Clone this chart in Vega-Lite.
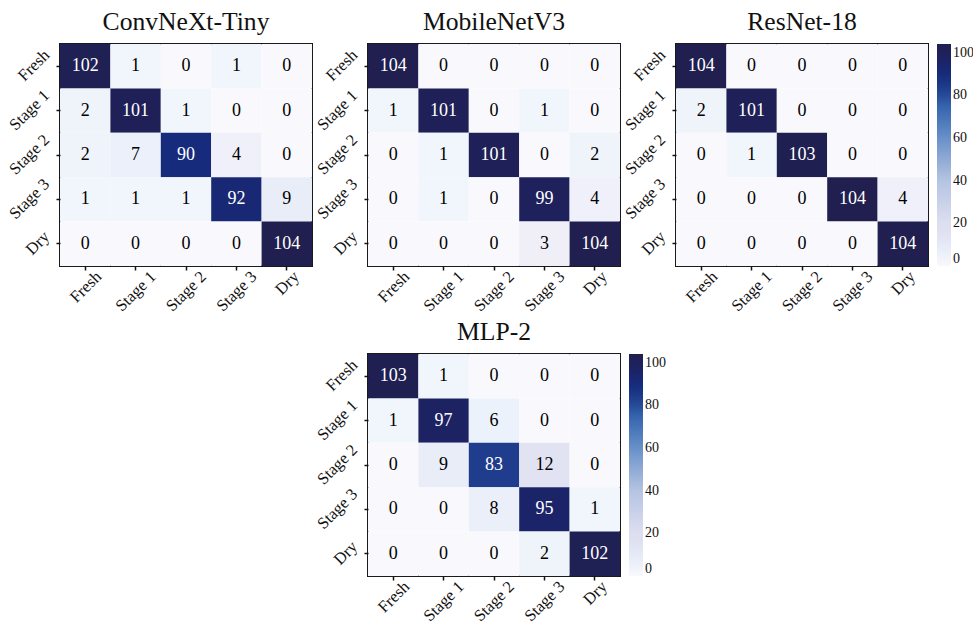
{
  "$schema": "https://vega.github.io/schema/vega-lite/v6.json",
  "padding": {"left": 5, "top": 9, "right": 0, "bottom": 0},
  "background": "white",
  "datasets": {
    "cm": [
      {"model": "ConvNeXt-Tiny", "actual": "Fresh", "pred": "Fresh", "count": 102},
      {"model": "ConvNeXt-Tiny", "actual": "Fresh", "pred": "Stage 1", "count": 1},
      {"model": "ConvNeXt-Tiny", "actual": "Fresh", "pred": "Stage 2", "count": 0},
      {"model": "ConvNeXt-Tiny", "actual": "Fresh", "pred": "Stage 3", "count": 1},
      {"model": "ConvNeXt-Tiny", "actual": "Fresh", "pred": "Dry", "count": 0},
      {"model": "ConvNeXt-Tiny", "actual": "Stage 1", "pred": "Fresh", "count": 2},
      {"model": "ConvNeXt-Tiny", "actual": "Stage 1", "pred": "Stage 1", "count": 101},
      {"model": "ConvNeXt-Tiny", "actual": "Stage 1", "pred": "Stage 2", "count": 1},
      {"model": "ConvNeXt-Tiny", "actual": "Stage 1", "pred": "Stage 3", "count": 0},
      {"model": "ConvNeXt-Tiny", "actual": "Stage 1", "pred": "Dry", "count": 0},
      {"model": "ConvNeXt-Tiny", "actual": "Stage 2", "pred": "Fresh", "count": 2},
      {"model": "ConvNeXt-Tiny", "actual": "Stage 2", "pred": "Stage 1", "count": 7},
      {"model": "ConvNeXt-Tiny", "actual": "Stage 2", "pred": "Stage 2", "count": 90},
      {"model": "ConvNeXt-Tiny", "actual": "Stage 2", "pred": "Stage 3", "count": 4},
      {"model": "ConvNeXt-Tiny", "actual": "Stage 2", "pred": "Dry", "count": 0},
      {"model": "ConvNeXt-Tiny", "actual": "Stage 3", "pred": "Fresh", "count": 1},
      {"model": "ConvNeXt-Tiny", "actual": "Stage 3", "pred": "Stage 1", "count": 1},
      {"model": "ConvNeXt-Tiny", "actual": "Stage 3", "pred": "Stage 2", "count": 1},
      {"model": "ConvNeXt-Tiny", "actual": "Stage 3", "pred": "Stage 3", "count": 92},
      {"model": "ConvNeXt-Tiny", "actual": "Stage 3", "pred": "Dry", "count": 9},
      {"model": "ConvNeXt-Tiny", "actual": "Dry", "pred": "Fresh", "count": 0},
      {"model": "ConvNeXt-Tiny", "actual": "Dry", "pred": "Stage 1", "count": 0},
      {"model": "ConvNeXt-Tiny", "actual": "Dry", "pred": "Stage 2", "count": 0},
      {"model": "ConvNeXt-Tiny", "actual": "Dry", "pred": "Stage 3", "count": 0},
      {"model": "ConvNeXt-Tiny", "actual": "Dry", "pred": "Dry", "count": 104},

      {"model": "MobileNetV3", "actual": "Fresh", "pred": "Fresh", "count": 104},
      {"model": "MobileNetV3", "actual": "Fresh", "pred": "Stage 1", "count": 0},
      {"model": "MobileNetV3", "actual": "Fresh", "pred": "Stage 2", "count": 0},
      {"model": "MobileNetV3", "actual": "Fresh", "pred": "Stage 3", "count": 0},
      {"model": "MobileNetV3", "actual": "Fresh", "pred": "Dry", "count": 0},
      {"model": "MobileNetV3", "actual": "Stage 1", "pred": "Fresh", "count": 1},
      {"model": "MobileNetV3", "actual": "Stage 1", "pred": "Stage 1", "count": 101},
      {"model": "MobileNetV3", "actual": "Stage 1", "pred": "Stage 2", "count": 0},
      {"model": "MobileNetV3", "actual": "Stage 1", "pred": "Stage 3", "count": 1},
      {"model": "MobileNetV3", "actual": "Stage 1", "pred": "Dry", "count": 0},
      {"model": "MobileNetV3", "actual": "Stage 2", "pred": "Fresh", "count": 0},
      {"model": "MobileNetV3", "actual": "Stage 2", "pred": "Stage 1", "count": 1},
      {"model": "MobileNetV3", "actual": "Stage 2", "pred": "Stage 2", "count": 101},
      {"model": "MobileNetV3", "actual": "Stage 2", "pred": "Stage 3", "count": 0},
      {"model": "MobileNetV3", "actual": "Stage 2", "pred": "Dry", "count": 2},
      {"model": "MobileNetV3", "actual": "Stage 3", "pred": "Fresh", "count": 0},
      {"model": "MobileNetV3", "actual": "Stage 3", "pred": "Stage 1", "count": 1},
      {"model": "MobileNetV3", "actual": "Stage 3", "pred": "Stage 2", "count": 0},
      {"model": "MobileNetV3", "actual": "Stage 3", "pred": "Stage 3", "count": 99},
      {"model": "MobileNetV3", "actual": "Stage 3", "pred": "Dry", "count": 4},
      {"model": "MobileNetV3", "actual": "Dry", "pred": "Fresh", "count": 0},
      {"model": "MobileNetV3", "actual": "Dry", "pred": "Stage 1", "count": 0},
      {"model": "MobileNetV3", "actual": "Dry", "pred": "Stage 2", "count": 0},
      {"model": "MobileNetV3", "actual": "Dry", "pred": "Stage 3", "count": 3},
      {"model": "MobileNetV3", "actual": "Dry", "pred": "Dry", "count": 104},

      {"model": "ResNet-18", "actual": "Fresh", "pred": "Fresh", "count": 104},
      {"model": "ResNet-18", "actual": "Fresh", "pred": "Stage 1", "count": 0},
      {"model": "ResNet-18", "actual": "Fresh", "pred": "Stage 2", "count": 0},
      {"model": "ResNet-18", "actual": "Fresh", "pred": "Stage 3", "count": 0},
      {"model": "ResNet-18", "actual": "Fresh", "pred": "Dry", "count": 0},
      {"model": "ResNet-18", "actual": "Stage 1", "pred": "Fresh", "count": 2},
      {"model": "ResNet-18", "actual": "Stage 1", "pred": "Stage 1", "count": 101},
      {"model": "ResNet-18", "actual": "Stage 1", "pred": "Stage 2", "count": 0},
      {"model": "ResNet-18", "actual": "Stage 1", "pred": "Stage 3", "count": 0},
      {"model": "ResNet-18", "actual": "Stage 1", "pred": "Dry", "count": 0},
      {"model": "ResNet-18", "actual": "Stage 2", "pred": "Fresh", "count": 0},
      {"model": "ResNet-18", "actual": "Stage 2", "pred": "Stage 1", "count": 1},
      {"model": "ResNet-18", "actual": "Stage 2", "pred": "Stage 2", "count": 103},
      {"model": "ResNet-18", "actual": "Stage 2", "pred": "Stage 3", "count": 0},
      {"model": "ResNet-18", "actual": "Stage 2", "pred": "Dry", "count": 0},
      {"model": "ResNet-18", "actual": "Stage 3", "pred": "Fresh", "count": 0},
      {"model": "ResNet-18", "actual": "Stage 3", "pred": "Stage 1", "count": 0},
      {"model": "ResNet-18", "actual": "Stage 3", "pred": "Stage 2", "count": 0},
      {"model": "ResNet-18", "actual": "Stage 3", "pred": "Stage 3", "count": 104},
      {"model": "ResNet-18", "actual": "Stage 3", "pred": "Dry", "count": 4},
      {"model": "ResNet-18", "actual": "Dry", "pred": "Fresh", "count": 0},
      {"model": "ResNet-18", "actual": "Dry", "pred": "Stage 1", "count": 0},
      {"model": "ResNet-18", "actual": "Dry", "pred": "Stage 2", "count": 0},
      {"model": "ResNet-18", "actual": "Dry", "pred": "Stage 3", "count": 0},
      {"model": "ResNet-18", "actual": "Dry", "pred": "Dry", "count": 104},

      {"model": "MLP-2", "actual": "Fresh", "pred": "Fresh", "count": 103},
      {"model": "MLP-2", "actual": "Fresh", "pred": "Stage 1", "count": 1},
      {"model": "MLP-2", "actual": "Fresh", "pred": "Stage 2", "count": 0},
      {"model": "MLP-2", "actual": "Fresh", "pred": "Stage 3", "count": 0},
      {"model": "MLP-2", "actual": "Fresh", "pred": "Dry", "count": 0},
      {"model": "MLP-2", "actual": "Stage 1", "pred": "Fresh", "count": 1},
      {"model": "MLP-2", "actual": "Stage 1", "pred": "Stage 1", "count": 97},
      {"model": "MLP-2", "actual": "Stage 1", "pred": "Stage 2", "count": 6},
      {"model": "MLP-2", "actual": "Stage 1", "pred": "Stage 3", "count": 0},
      {"model": "MLP-2", "actual": "Stage 1", "pred": "Dry", "count": 0},
      {"model": "MLP-2", "actual": "Stage 2", "pred": "Fresh", "count": 0},
      {"model": "MLP-2", "actual": "Stage 2", "pred": "Stage 1", "count": 9},
      {"model": "MLP-2", "actual": "Stage 2", "pred": "Stage 2", "count": 83},
      {"model": "MLP-2", "actual": "Stage 2", "pred": "Stage 3", "count": 12},
      {"model": "MLP-2", "actual": "Stage 2", "pred": "Dry", "count": 0},
      {"model": "MLP-2", "actual": "Stage 3", "pred": "Fresh", "count": 0},
      {"model": "MLP-2", "actual": "Stage 3", "pred": "Stage 1", "count": 0},
      {"model": "MLP-2", "actual": "Stage 3", "pred": "Stage 2", "count": 8},
      {"model": "MLP-2", "actual": "Stage 3", "pred": "Stage 3", "count": 95},
      {"model": "MLP-2", "actual": "Stage 3", "pred": "Dry", "count": 1},
      {"model": "MLP-2", "actual": "Dry", "pred": "Fresh", "count": 0},
      {"model": "MLP-2", "actual": "Dry", "pred": "Stage 1", "count": 0},
      {"model": "MLP-2", "actual": "Dry", "pred": "Stage 2", "count": 0},
      {"model": "MLP-2", "actual": "Dry", "pred": "Stage 3", "count": 2},
      {"model": "MLP-2", "actual": "Dry", "pred": "Dry", "count": 102}
    ]
  },
  "vconcat": [
    {
      "hconcat": [
        {
          "title": "ConvNeXt-Tiny",
          "width": 252, "height": 222,
          "data": {"name": "cm"},
          "transform": [{"filter": "datum.model == 'ConvNeXt-Tiny'"}],
          "encoding": {
            "x": {"field": "pred", "type": "nominal", "sort": ["Fresh", "Stage 1", "Stage 2", "Stage 3", "Dry"], "axis": {"title": null, "orient": "bottom", "labelAngle": -45, "labelAlign": "right", "labelBaseline": "top", "labelPadding": -2, "labelOffset": {"condition": [{"test": "datum.value == 'Dry'", "value": 4}, {"test": "datum.value == 'Fresh'", "value": 8}], "value": 12}}},
            "y": {"field": "actual", "type": "nominal", "sort": ["Fresh", "Stage 1", "Stage 2", "Stage 3", "Dry"], "axis": {"title": null, "labelAngle": -45, "labelAlign": "right", "labelBaseline": "bottom", "labelPadding": 4, "labelOffset": {"condition": [{"test": "datum.value == 'Dry'", "value": -4}, {"test": "datum.value == 'Fresh'", "value": -8}], "value": -12}}}
          },
          "layer": [
            {"mark": "rect", "encoding": {"color": {"field": "count", "type": "quantitative", "scale": {"domain": [0, 1, 3, 6, 9, 12, 20, 40, 60, 75, 83, 90, 97, 104], "range": ["#f9f9fd", "#f0f6fb", "#f0eff8", "#ecf2fb", "#e9edf8", "#e2e3f2", "#dcdff0", "#b4c4e2", "#6890c8", "#3563ad", "#1f3d8c", "#162b7c", "#1c2262", "#201f4f"]}, "legend": null}}},
            {"mark": {"type": "text", "font": "Liberation Serif, Times New Roman, Times, serif", "fontSize": 18}, "encoding": {"text": {"field": "count", "type": "quantitative"}, "color": {"condition": {"test": "datum.count > 52", "value": "white"}, "value": "black"}}}
          ]
        },
        {
          "title": "MobileNetV3",
          "width": 252, "height": 222,
          "data": {"name": "cm"},
          "transform": [{"filter": "datum.model == 'MobileNetV3'"}],
          "encoding": {
            "x": {"field": "pred", "type": "nominal", "sort": ["Fresh", "Stage 1", "Stage 2", "Stage 3", "Dry"], "axis": {"title": null, "orient": "bottom", "labelAngle": -45, "labelAlign": "right", "labelBaseline": "top", "labelPadding": -2, "labelOffset": {"condition": [{"test": "datum.value == 'Dry'", "value": 4}, {"test": "datum.value == 'Fresh'", "value": 8}], "value": 12}}},
            "y": {"field": "actual", "type": "nominal", "sort": ["Fresh", "Stage 1", "Stage 2", "Stage 3", "Dry"], "axis": {"title": null, "labelAngle": -45, "labelAlign": "right", "labelBaseline": "bottom", "labelPadding": 4, "labelOffset": {"condition": [{"test": "datum.value == 'Dry'", "value": -4}, {"test": "datum.value == 'Fresh'", "value": -8}], "value": -12}}}
          },
          "layer": [
            {"mark": "rect", "encoding": {"color": {"field": "count", "type": "quantitative", "scale": {"domain": [0, 1, 3, 6, 9, 12, 20, 40, 60, 75, 83, 90, 97, 104], "range": ["#f9f9fd", "#f0f6fb", "#f0eff8", "#ecf2fb", "#e9edf8", "#e2e3f2", "#dcdff0", "#b4c4e2", "#6890c8", "#3563ad", "#1f3d8c", "#162b7c", "#1c2262", "#201f4f"]}, "legend": null}}},
            {"mark": {"type": "text", "font": "Liberation Serif, Times New Roman, Times, serif", "fontSize": 18}, "encoding": {"text": {"field": "count", "type": "quantitative"}, "color": {"condition": {"test": "datum.count > 52", "value": "white"}, "value": "black"}}}
          ]
        },
        {
          "title": "ResNet-18",
          "width": 252, "height": 222,
          "data": {"name": "cm"},
          "transform": [{"filter": "datum.model == 'ResNet-18'"}],
          "encoding": {
            "x": {"field": "pred", "type": "nominal", "sort": ["Fresh", "Stage 1", "Stage 2", "Stage 3", "Dry"], "axis": {"title": null, "orient": "bottom", "labelAngle": -45, "labelAlign": "right", "labelBaseline": "top", "labelPadding": -2, "labelOffset": {"condition": [{"test": "datum.value == 'Dry'", "value": 4}, {"test": "datum.value == 'Fresh'", "value": 8}], "value": 12}}},
            "y": {"field": "actual", "type": "nominal", "sort": ["Fresh", "Stage 1", "Stage 2", "Stage 3", "Dry"], "axis": {"title": null, "labelAngle": -45, "labelAlign": "right", "labelBaseline": "bottom", "labelPadding": 4, "labelOffset": {"condition": [{"test": "datum.value == 'Dry'", "value": -4}, {"test": "datum.value == 'Fresh'", "value": -8}], "value": -12}}}
          },
          "layer": [
            {"mark": "rect", "encoding": {"color": {"field": "count", "type": "quantitative", "scale": {"domain": [0, 1, 3, 6, 9, 12, 20, 40, 60, 75, 83, 90, 97, 104], "range": ["#f9f9fd", "#f0f6fb", "#f0eff8", "#ecf2fb", "#e9edf8", "#e2e3f2", "#dcdff0", "#b4c4e2", "#6890c8", "#3563ad", "#1f3d8c", "#162b7c", "#1c2262", "#201f4f"]}, "legend": {"title": null, "values": [0, 20, 40, 60, 80, 100]}}}},
            {"mark": {"type": "text", "font": "Liberation Serif, Times New Roman, Times, serif", "fontSize": 18}, "encoding": {"text": {"field": "count", "type": "quantitative"}, "color": {"condition": {"test": "datum.count > 52", "value": "white"}, "value": "black"}}}
          ]
        }
      ],
      "spacing": 0,
      "resolve": {"scale": {"color": "independent"}, "legend": {"color": "independent"}}
    },
    {
      "title": "MLP-2",
      "width": 252, "height": 222,
      "data": {"name": "cm"},
      "transform": [{"filter": "datum.model == 'MLP-2'"}],
      "encoding": {
        "x": {"field": "pred", "type": "nominal", "sort": ["Fresh", "Stage 1", "Stage 2", "Stage 3", "Dry"], "axis": {"title": null, "orient": "bottom", "labelAngle": -45, "labelAlign": "right", "labelBaseline": "top", "labelPadding": -2, "labelOffset": {"condition": [{"test": "datum.value == 'Dry'", "value": 4}, {"test": "datum.value == 'Fresh'", "value": 8}], "value": 12}}},
        "y": {"field": "actual", "type": "nominal", "sort": ["Fresh", "Stage 1", "Stage 2", "Stage 3", "Dry"], "axis": {"title": null, "labelAngle": -45, "labelAlign": "right", "labelBaseline": "bottom", "labelPadding": 4, "labelOffset": {"condition": [{"test": "datum.value == 'Dry'", "value": -4}, {"test": "datum.value == 'Fresh'", "value": -8}], "value": -12}}}
      },
      "layer": [
        {"mark": "rect", "encoding": {"color": {"field": "count", "type": "quantitative", "scale": {"domain": [0, 1, 3, 6, 9, 12, 20, 40, 60, 75, 83, 90, 97, 104], "range": ["#f9f9fd", "#f0f6fb", "#f0eff8", "#ecf2fb", "#e9edf8", "#e2e3f2", "#dcdff0", "#b4c4e2", "#6890c8", "#3563ad", "#1f3d8c", "#162b7c", "#1c2262", "#201f4f"]}, "legend": {"title": null, "values": [0, 20, 40, 60, 80, 100]}}}},
        {"mark": {"type": "text", "font": "Liberation Serif, Times New Roman, Times, serif", "fontSize": 18}, "encoding": {"text": {"field": "count", "type": "quantitative"}, "color": {"condition": {"test": "datum.count > 52", "value": "white"}, "value": "black"}}}
      ]
    }
  ],
  "spacing": 3,
  "center": true,
  "resolve": {"scale": {"color": "independent"}, "legend": {"color": "independent"}},
  "config": {
    "font": "Liberation Serif, Times New Roman, Times, serif",
    "view": {"stroke": "#1a1a1a", "strokeWidth": 2},
    "axis": {"domain": false, "tickColor": "#111", "tickSize": 4, "tickWidth": 1.5, "labelFont": "Liberation Serif, Times New Roman, Times, serif", "labelFontSize": 16.5, "labelColor": "#111", "labelOverlap": false, "labelBound": false},
    "title": {"font": "Liberation Serif, Times New Roman, Times, serif", "fontSize": 25.6, "fontWeight": "normal", "color": "#111", "offset": 8},
    "legend": {"gradientLength": 222, "gradientThickness": 14, "labelFont": "Liberation Serif, Times New Roman, Times, serif", "labelFontSize": 14, "labelColor": "#111", "offset": 9, "padding": 0, "labelOffset": 2, "gradientStrokeWidth": 0, "labelOverlap": false, "labelBaseline": "middle"}
  }
}
